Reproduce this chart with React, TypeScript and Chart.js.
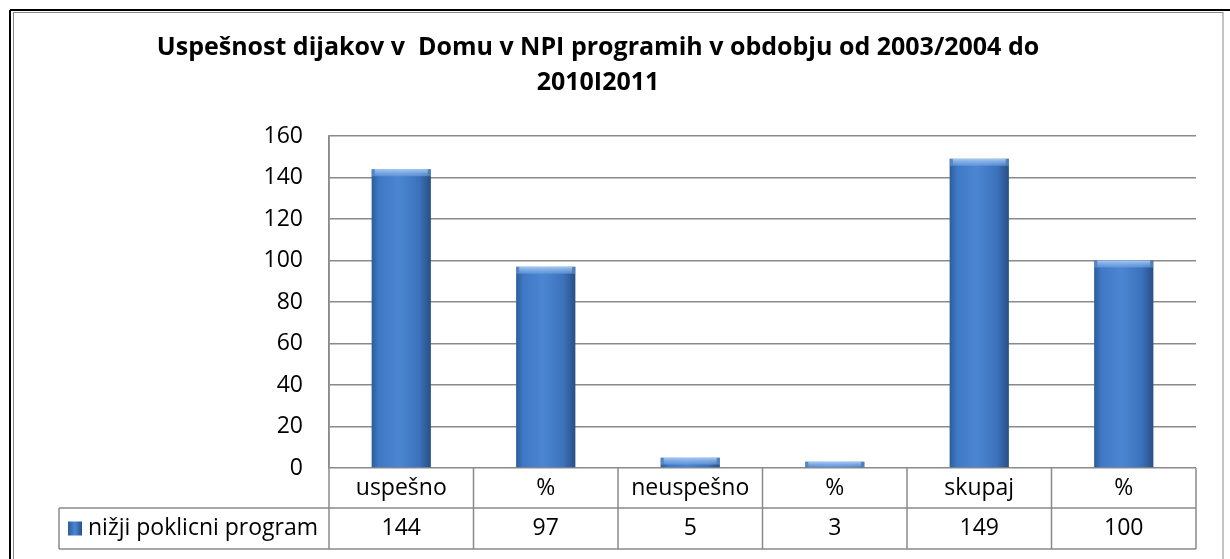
import React, { useEffect, useRef } from "react";
import { Chart, registerables } from "chart.js";

Chart.register(...registerables);

const titleLines = ["Uspešnost dijakov v  Domu v NPI programih v obdobju od 2003/2004 do", "2010I2011"];
const categories = ["uspešno", "%", "neuspešno", "%", "skupaj", "%"];
const seriesLabel = "nižji poklicni program";
const values = [144, 97, 5, 3, 149, 100];
const yMin = 0;
const yMax = 160;
const yStep = 20;

const FONT = "'Open Sans', 'DejaVu Sans', sans-serif";
const BAR_PCT = 0.41;

function barGradient(ctx: CanvasRenderingContext2D, left: number, right: number) {
  const g = ctx.createLinearGradient(left, 0, right, 0);
  g.addColorStop(0, "#2c5c9c");
  g.addColorStop(0.12, "#3f78c4");
  g.addColorStop(0.45, "#4c86d2");
  g.addColorStop(0.8, "#3c72bc");
  g.addColorStop(1, "#284f86");
  return g;
}

const framePlugin = {
  id: "frame",
  beforeDraw(chart: any) {
    const ctx = chart.ctx;
    ctx.save();
    ctx.fillStyle = "#ffffff";
    ctx.fillRect(0, 0, chart.width, chart.height);
    ctx.strokeStyle = "#8a8a8a";
    ctx.lineWidth = 1;
    ctx.strokeRect(13.5, 12.5, 1209.5, chart.height + 10);
    ctx.strokeStyle = "#000000";
    ctx.lineWidth = 2;
    ctx.beginPath();
    ctx.moveTo(10, 10);
    ctx.lineTo(chart.width, 10);
    ctx.moveTo(10, 10);
    ctx.lineTo(10, chart.height);
    ctx.stroke();
    ctx.restore();
  },
};

const bevelPlugin = {
  id: "bevel",
  afterDatasetsDraw(chart: any) {
    const ctx = chart.ctx;
    const meta = chart.getDatasetMeta(0);
    ctx.save();
    meta.data.forEach((el: any) => {
      const { x, y, width, base } = el.getProps(["x", "y", "width", "base"], true);
      const h = Math.min(7, base - y);
      if (h <= 0) return;
      const g = ctx.createLinearGradient(0, y, 0, y + h);
      g.addColorStop(0, "rgba(170,205,245,0.95)");
      g.addColorStop(1, "rgba(110,160,225,0.6)");
      ctx.fillStyle = g;
      ctx.fillRect(x - width / 2 + 3, y, width - 6, h);
      ctx.fillStyle = "rgba(120,170,230,0.5)";
      ctx.fillRect(x - width / 2, y, 3, h);
      ctx.fillRect(x + width / 2 - 3, y, 3, h);
    });
    ctx.restore();
  },
};

const tablePlugin = {
  id: "dataTable",
  afterDraw(chart: any) {
    const ctx = chart.ctx;
    const area = chart.chartArea;
    const xs = chart.scales.x;
    const n = categories.length;
    const cw = (area.right - area.left) / n;
    const top = area.bottom;
    const row1 = top + 40;
    const row2 = top + 81;
    const legendLeft = 59;
    ctx.save();
    ctx.strokeStyle = "#8a8a8a";
    ctx.lineWidth = 1.5;
    ctx.beginPath();
    ctx.moveTo(area.left, area.top);
    ctx.lineTo(area.left, row2);
    for (let i = 0; i < n; i++) {
      const r = xs.getPixelForValue(i) + cw / 2;
      ctx.moveTo(r, top);
      ctx.lineTo(r, row2);
    }
    ctx.moveTo(legendLeft, row1);
    ctx.lineTo(area.right, row1);
    ctx.moveTo(legendLeft, row2);
    ctx.lineTo(area.right, row2);
    ctx.moveTo(legendLeft, row1);
    ctx.lineTo(legendLeft, row2);
    ctx.stroke();

    ctx.fillStyle = "#000000";
    ctx.font = `23px ${FONT}`;
    ctx.textAlign = "center";
    ctx.textBaseline = "middle";
    categories.forEach((c, i) => {
      const cx = xs.getPixelForValue(i);
      ctx.fillText(c, cx, (top + row1) / 2);
      ctx.fillText(String(values[i]), cx, (row1 + row2) / 2);
    });
    const ky = (row1 + row2) / 2;
    const kg = ctx.createLinearGradient(68, 0, 82, 0);
    kg.addColorStop(0, "#2c5c9c");
    kg.addColorStop(0.5, "#4c86d2");
    kg.addColorStop(1, "#284f86");
    ctx.fillStyle = kg;
    ctx.fillRect(68, ky - 7, 14, 14);
    ctx.fillStyle = "#000000";
    ctx.textAlign = "left";
    ctx.fillText(seriesLabel, 88, ky);
    ctx.restore();
  },
};

export default function App() {
  const ref = useRef<HTMLCanvasElement | null>(null);
  useEffect(() => {
    if (!ref.current) return;
    const chart = new Chart(ref.current, {
      type: "bar",
      data: {
        labels: categories,
        datasets: [
          {
            label: seriesLabel,
            data: values,
            backgroundColor: (c: any) => {
              const ch = c.chart;
              const area = ch.chartArea;
              if (!area || c.dataIndex === undefined) return "#4a7ebb";
              const cw = (area.right - area.left) / categories.length;
              const cx = ch.scales.x.getPixelForValue(c.dataIndex);
              const w = cw * BAR_PCT;
              return barGradient(ch.ctx, cx - w / 2, cx + w / 2);
            },
            borderWidth: 0,
            barPercentage: BAR_PCT,
            categoryPercentage: 1,
          },
        ],
      },
      options: {
        responsive: false,
        animation: false,
        layout: { padding: { left: 0, right: 34, top: 0, bottom: 91 } },
        plugins: {
          legend: { display: false },
          tooltip: { enabled: false },
          title: {
            display: true,
            text: titleLines,
            color: "#000000",
            font: { family: FONT, size: 25, weight: "bold", lineHeight: 1.4 },
            padding: { top: 30, bottom: 36 },
          },
        },
        scales: {
          x: { display: false },
          y: {
            min: yMin,
            max: yMax,
            afterFit: (s: any) => {
              s.width = 329;
            },
            ticks: {
              stepSize: yStep,
              padding: 26,
              color: "#000000",
              font: { family: FONT, size: 23 },
            },
            grid: { color: "#8a8a8a", lineWidth: 1.5, drawTicks: false },
            border: { display: true, color: "#8a8a8a", width: 1.5 },
          },
        },
      },
      plugins: [framePlugin, bevelPlugin, tablePlugin],
    });
    return () => chart.destroy();
  }, []);
  return (
    <div style={{ position: "absolute", left: 0, top: 0, width: 1230, height: 559 }}>
      <canvas ref={ref} width={1230} height={559} />
    </div>
  );
}
